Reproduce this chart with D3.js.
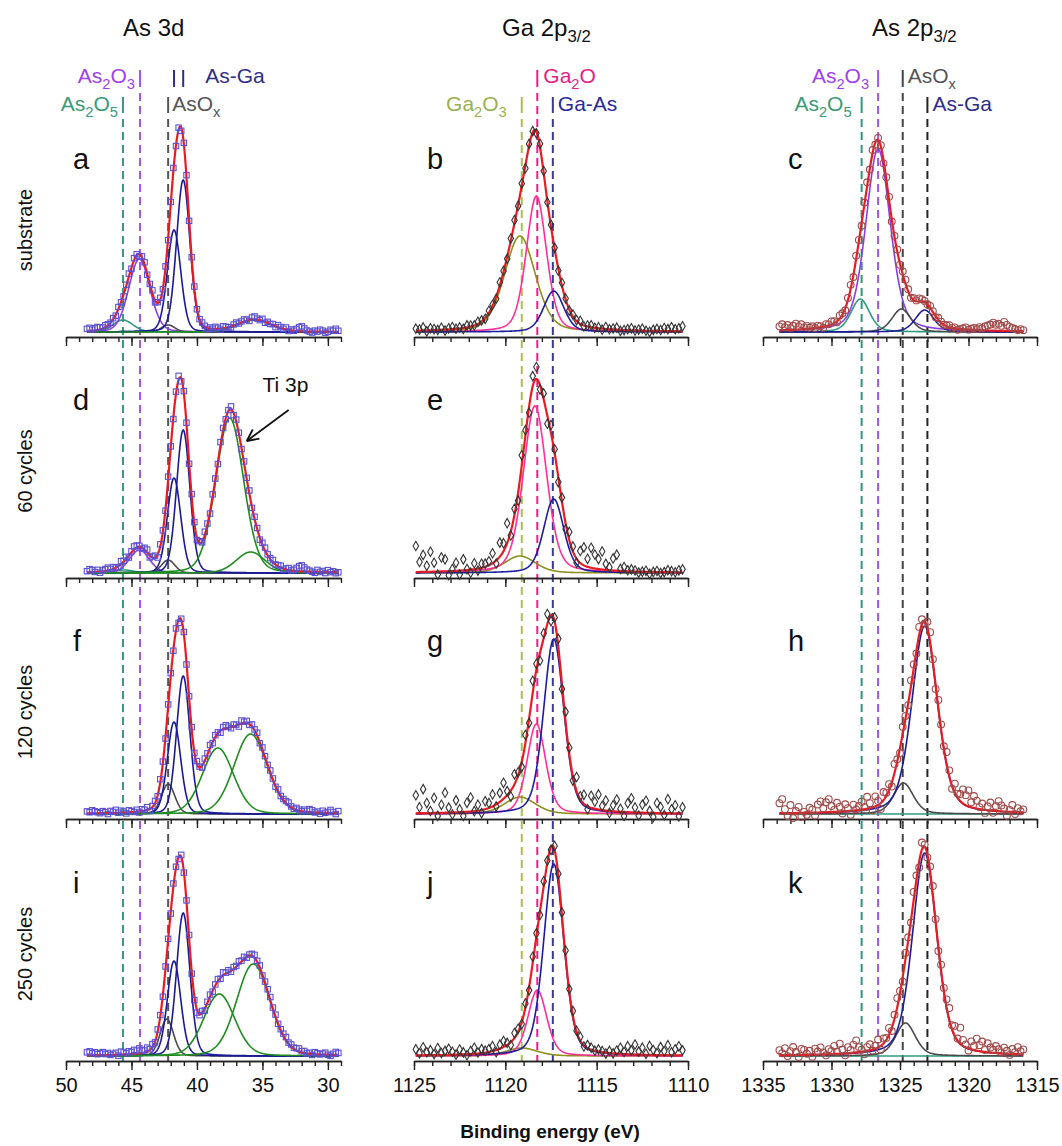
<!doctype html>
<html lang="en">
<head>
<meta charset="utf-8">
<title>XPS As 3d / Ga 2p / As 2p</title>
<script src="https://cdn.jsdelivr.net/npm/d3@7"></script>
<style>
  body { margin: 0; background: #fff; }
  text { font-family: "Liberation Sans", Arial, Helvetica, sans-serif; }
</style>
</head>
<body>
<script>
// ---- data ----
var colDomains = [[50, 29], [1125, 1110], [1335, 1315]];
var colTicks = [[50, 45, 40, 35, 30], [1125, 1120, 1115, 1110], [1335, 1330, 1325, 1320, 1315]];
var colEta = [0.15, 0.3, 0.35];           // lorentzian share of the fit peaks
var gridStart = [48.4, 1124.9, 1333.8];   // first measured energy
var gridCount = [97, 74, 90];             // points, 0.2 eV apart
var rowNames = ["substrate", "60 cycles", "120 cycles", "250 cycles"];

// fitted components: [centre eV, height, fwhm eV, species]
var peaksA = [[45.65,12,1.8,"As2O5"],[44.4,73,1.9,"As2O3"],[42.2,7,1.2,"AsOx"],[41.75,102,1.2,"AsGa"],[41.05,152,1.2,"AsGa"],[35.6,12,3.0,"Ti"]];
var peaksD = [[45.6,3,1.8,"As2O5"],[44.4,23,1.8,"As2O3"],[42.2,13,1.2,"AsOx"],[41.75,95,1.2,"AsGa"],[41.05,143,1.2,"AsGa"],[37.5,155,2.5,"Ti"],[35.9,21,2.6,"Ti"]];
var peaksF = [[42.2,30,1.2,"AsOx"],[41.75,92,1.2,"AsGa"],[41.05,138,1.2,"AsGa"],[38.4,66,2.8,"Ti"],[35.9,80,3.0,"Ti"]];
var peaksI = [[42.3,37,1.2,"AsOx"],[41.75,95,1.2,"AsGa"],[41.05,143,1.2,"AsGa"],[38.3,62,2.8,"Ti"],[35.7,92,3.0,"Ti"]];
var peaksB = [[1119.2,96,2.0,"Ga2O3"],[1118.3,136,1.3,"Ga2O"],[1117.35,41,1.3,"GaAs"]];
var peaksE = [[1119.2,17,2.0,"Ga2O3"],[1118.38,167,1.5,"Ga2O"],[1117.35,74,1.3,"GaAs"]];
var peaksG = [[1119.2,17,2.0,"Ga2O3"],[1118.3,90,1.2,"Ga2O"],[1117.35,175,1.3,"GaAs"]];
var peaksJ = [[1119.1,8,2.0,"Ga2O3"],[1118.25,66,1.2,"Ga2O"],[1117.35,192,1.3,"GaAs"]];
var peaksC = [[1327.9,33,1.6,"As2O5"],[1326.6,183,2.1,"As2O3"],[1324.9,23,1.6,"AsOx"],[1323.2,22,1.6,"AsGa"]];
var peaksH = [[1327.8,0,1.6,"As2O5"],[1324.75,31,1.7,"AsOx"],[1323.2,188,2.2,"AsGa"]];
var peaksK = [[1327.8,0,1.6,"As2O5"],[1324.6,33,1.7,"AsOx"],[1323.2,203,2.1,"AsGa"]];

// scatter of the measured points about the fit envelope
var noiseA = [2,3,1,2,3,2,1,2,1,0, 1,-1,2,0,-2,1,3,-1,2,1, -2,1,2,-1,0,3,-2,1,2,-1, 1,-2,2,3,-1,2,-3,1,2,-2, 1,2,-1,0,2,1,-1,1,0,2, 1,-1,2,1,0,-1,1,2,0,1, 2,1,-1,2,3,1,0,2,-1,1, 0,1,-1,2,1,0,2,-1,1,0, 2,4,5,3,1,0,-1,1,0,2, 1,-1,0,2,1,3,1];
var noiseD = [1,3,2,0,2,-1,1,2,3,1, 2,0,-1,3,1,2,-2,1,3,2, 1,-1,2,3,-2,1,2,-3,2,1, -2,3,1,-2,2,4,-3,2,1,-2, 3,1,-2,2,-1,3,1,-2,2,1, -2,3,2,-1,1,3,-2,2,1,-1, 2,1,3,-1,2,1,-2,2,3,1, 1,2,0,1,2,-1,1,2,0,1, 3,5,6,4,2,1,0,-1,2,0, 1,-1,2,0,1,-1,0];
var noiseF = [2,1,3,2,1,0,2,1,-1,2, 1,3,0,2,1,-1,2,1,0,2, -1,2,1,3,-2,1,2,-1,3,1, -2,2,3,-1,2,-3,1,2,-2,1, 2,-1,3,1,-2,2,1,3,-1,2, 1,-2,2,3,1,-1,2,1,-2,3, 1,2,-1,2,1,3,-1,2,1,0, 2,1,-1,2,0,1,2,3,1,0, 2,1,0,2,1,3,2,0,1,-1, 2,0,1,3,1,-1,2];
var noiseI = [3,4,2,3,1,2,3,1,2,0, 1,2,-1,3,2,1,3,2,4,3, 5,3,2,4,1,3,-1,2,1,-2, 2,1,-2,3,1,-2,2,-1,1,3, -2,-4,-3,-1,2,-2,1,2,-1,1, 2,-1,3,1,2,-1,2,1,3,1, 2,-1,1,2,3,1,2,-1,1,2, 3,1,2,0,1,2,3,1,2,1, 2,3,1,2,0,1,-1,2,1,0, 1,2,0,-1,1,3,2];
var noiseB = [2,1,3,-1,2,1,0,2,-1,1, 2,0,1,-1,2,1,0,2,1,-1, 2,1,-2,3,1,-2,2,3,-1,2, -3,2,1,-2,3,2,-1,2,1,-2, 3,1,-1,2,1,3,-1,1,2,0, 1,-1,2,0,1,2,-1,0,1,2, 0,1,2,0,-1,1,2,1,3,2, 4,2,3,5];
var noiseE = [26,10,17,6,20,9,-3,14,12,-4, 2,8,-4,11,1,-3,6,-2,4,3, 4,10,-3,14,8,20,-4,6,-8,10, 5,-6,10,12,-4,6,-8,8,4,-5, 4,-6,8,5,-4,12,18,8,20,14, 10,18,6,3,12,16,2,4,1,2, 1,-1,0,1,-2,0,1,-1,0,2, 1,0,2,3];
var noiseG = [18,6,24,10,2,15,-3,8,20,5, -2,12,3,-4,9,14,0,6,-3,8, 5,12,-2,9,16,4,-6,10,3,-5, 8,-4,12,6,-8,5,10,-6,4,8, -5,10,6,-4,14,3,9,-3,12,7, 15,4,10,-2,6,12,3,-4,9,14, 5,-3,8,12,2,-4,10,6,-2,14, 4,8,-3,6];
var noiseJ = [6,2,8,3,5,1,7,2,4,6, 3,0,5,2,-1,3,6,1,4,2, 3,5,-2,4,6,2,-3,5,3,-2, 4,-3,6,3,-4,5,2,-3,4,2, 3,6,2,5,1,4,-1,3,2,0, 2,1,-1,2,0,3,6,2,8,4, 10,3,7,1,9,5,2,8,4,10, 3,6,9,5];
var noiseC = [4,6,3,5,2,4,6,3,5,2, 3,1,2,0,2,1,-1,2,1,3, 2,-1,3,1,-2,2,4,-2,3,1, -3,2,4,-1,3,-2,2,1,-3,2, 3,-2,1,2,-1,3,4,2,-1,2, 1,3,2,1,0,2,1,-1,2,1, 0,1,2,0,1,-1,0,1,2,0, 1,2,1,3,2,4,5,6,8,6, 7,5,9,6,4,3,2,1,2,1];
var noiseH = [10,14,4,-3,8,-5,2,6,-4,1, -2,5,3,-3,8,11,4,10,13,6, 2,9,5,-2,7,3,-4,6,1,4, 8,2,12,5,-3,10,4,-6,8,3, 6,-4,9,2,-5,7,3,-2,6,4, -3,8,5,-2,6,10,3,-4,8,5, 2,12,6,-3,9,4,7,14,10,16, 5,12,8,2,6,-3,4,8,-2,5, 10,6,3,-4,2,7,-2,4,1,3];
var noiseK = [5,2,7,-1,4,8,3,-2,6,5, 1,4,-2,6,3,7,2,-1,5,3, 8,2,10,4,-2,6,3,8,12,5, 2,-3,4,6,-1,3,8,-4,5,2, 7,-3,4,9,2,-5,6,3,-2,8, 4,-6,7,2,-3,5,9,2,-4,6, 3,8,12,4,10,2,16,6,3,-2, 8,4,12,6,10,2,9,5,3,7, 4,1,6,3,-1,5,2,7,3,5];

var panels = [
  {id:"a", row:0, col:0, peaks:peaksA, noise:noiseA},
  {id:"b", row:0, col:1, peaks:peaksB, noise:noiseB},
  {id:"c", row:0, col:2, peaks:peaksC, noise:noiseC},
  {id:"d", row:1, col:0, peaks:peaksD, noise:noiseD},
  {id:"e", row:1, col:1, peaks:peaksE, noise:noiseE},
  {id:"f", row:2, col:0, peaks:peaksF, noise:noiseF},
  {id:"g", row:2, col:1, peaks:peaksG, noise:noiseG},
  {id:"h", row:2, col:2, peaks:peaksH, noise:noiseH},
  {id:"i", row:3, col:0, peaks:peaksI, noise:noiseI},
  {id:"j", row:3, col:1, peaks:peaksJ, noise:noiseJ},
  {id:"k", row:3, col:2, peaks:peaksK, noise:noiseK}
];

// reference energies of the chemical states
var refCol = [0, 0, 0, 0, 0, 1, 1, 1, 2, 2, 2, 2];
var refEnergy = [45.65, 44.35, 42.2, 41.75, 41.05, 1119.1, 1118.25, 1117.4, 1327.8, 1326.6, 1324.8, 1323.0];
var refLabel = ["As_2O_5", "As_2O_3", "AsO_x", "", "As-Ga", "Ga_2O_3", "Ga_2O", "Ga-As", "As_2O_5", "As_2O_3", "AsO_x", "As-Ga"];

// ---- styles / layout ----
var compColor = {As2O5:"#2e9a7e", As2O3:"#8a3fe6", AsOx:"#4a4a4a", AsGa:"#1a1a96", Ti:"#1f8c1f",
                 Ga2O3:"#8f8f1f", Ga2O:"#ff2f96", GaAs:"#1c1ca0"};
var markerColor = ["#5a50d0", "#333333", "#a04a4a"];
var refStyle = [
  {lvl:1, side:"L", gap:5,  dash:"#3a9a78", txt:"#3a9a78"},
  {lvl:0, side:"L", gap:5,  dash:"#a455f0", txt:"#a040ee"},
  {lvl:1, side:"R", gap:4,  dash:"#555",    txt:"#555"},
  {lvl:0, side:"N", gap:0,  dash:"#2e2e8a", txt:"#2e2e8a", barOnly:true},
  {lvl:0, side:"R", gap:22, dash:"#2e2e8a", txt:"#2e2e8a", barOnly:true},
  {lvl:1, side:"L", gap:15, dash:"#a8c050", txt:"#9ab050"},
  {lvl:0, side:"R", gap:6,  dash:"#e8208a", txt:"#e8208a"},
  {lvl:1, side:"R", gap:5,  dash:"#3a3a90", txt:"#2a2a9a"},
  {lvl:1, side:"L", gap:10, dash:"#2a9a7a", txt:"#3a9a78"},
  {lvl:0, side:"L", gap:9,  dash:"#a455f0", txt:"#a040ee"},
  {lvl:0, side:"R", gap:5,  dash:"#444",    txt:"#555"},
  {lvl:1, side:"R", gap:5,  dash:"#222",    txt:"#2e2e8a"}
];
var colRange = [[66, 341], [414, 688], [763, 1037]];
var rowAxisY = [337, 578, 819, 1061];
var barTop = [70, 97], barBot = [87, 113], labelBase = [83, 111];

var svg = d3.select("body").append("svg").attr("width", 1062).attr("height", 1146);
var xs = colDomains.map(function(d, i){ return d3.scaleLinear().domain(d).range(colRange[i]); });

function pv(e, p, eta){
  var t = (e - p[0]) / p[2];
  return p[1] * ((1 - eta) * Math.exp(-4 * Math.LN2 * t * t) + eta / (1 + 4 * t * t));
}

function rich(g, x, y, str, size, color, anchor, weight){
  var t = g.append("text").attr("x", x).attr("y", y).attr("fill", color)
    .attr("font-size", size).attr("text-anchor", anchor || "start");
  if (weight) t.attr("font-weight", weight);
  var down = false;
  str.split(/(_[^_A-Z-]+)/).forEach(function(s){
    if (!s) return;
    var ts = t.append("tspan");
    if (s.charAt(0) === "_") {
      ts.text(s.slice(1)).attr("font-size", size * 0.7);
      if (!down) { ts.attr("dy", size * 0.27); down = true; }
    } else {
      ts.text(s);
      if (down) { ts.attr("dy", -size * 0.27); down = false; }
    }
  });
  return t;
}

// reference lines (behind everything)
var gRef = svg.append("g");
refEnergy.forEach(function(e, i){
  var st = refStyle[i], x = xs[refCol[i]](e);
  gRef.append("line").attr("x1", x).attr("x2", x).attr("y1", barTop[st.lvl]).attr("y2", barBot[st.lvl])
    .attr("stroke", st.dash).attr("stroke-width", 2);
  if (!st.barOnly) {
    gRef.append("line").attr("x1", x).attr("x2", x).attr("y1", barBot[st.lvl] + 6).attr("y2", rowAxisY[3])
      .attr("stroke", st.dash).attr("stroke-width", 2).attr("stroke-dasharray", "8,5");
  }
  if (refLabel[i]) {
    if (st.side === "L") rich(svg, x - st.gap, labelBase[st.lvl], refLabel[i], 21, st.txt, "end");
    else rich(svg, x + st.gap, labelBase[st.lvl], refLabel[i], 21, st.txt, "start");
  }
});

// column titles
rich(svg, 123, 36, "As 3d", 24, "#111", "start");
rich(svg, 502, 36, "Ga 2p_3/2", 24, "#111", "start");
rich(svg, 872, 36, "As 2p_3/2", 24, "#111", "start");

// row names
rowNames.forEach(function(n, r){
  svg.append("text").attr("transform", "translate(32," + (rowAxisY[r] - 107) + ") rotate(-90)")
    .attr("text-anchor", "middle").attr("font-size", 20).attr("fill", "#111").text(n);
});

panels.forEach(function(p){
  var x = xs[p.col], ay = rowAxisY[p.row], eta = colEta[p.col];
  var y = d3.scaleLinear().domain([0, 210]).range([ay - 5, ay - 215]);
  var g = svg.append("g");
  var e0 = gridStart[p.col], e1 = e0 - 0.2 * (gridCount[p.col] - 1);
  var fine = d3.range(e0, e1 - 0.001, -0.04);
  var env = function(e){ return d3.sum(p.peaks, function(k){ return pv(e, k, eta); }); };

  // axis: minor + major ticks
  var dom = colDomains[p.col];
  var minor = d3.range(Math.min(dom[0], dom[1]), Math.max(dom[0], dom[1]) + 0.5, 1);
  g.append("g").attr("transform", "translate(0," + ay + ")")
    .call(d3.axisBottom(x).tickValues(minor).tickSize(5).tickSizeOuter(0).tickFormat(""))
    .call(function(s){ s.selectAll("path,line").attr("stroke", "#222").attr("stroke-width", 1.4); });
  var major = g.append("g").attr("transform", "translate(0," + ay + ")")
    .call(d3.axisBottom(x).tickValues(colTicks[p.col]).tickSize(9).tickSizeOuter(0).tickPadding(8)
      .tickFormat(p.row === 3 ? d3.format("d") : ""));
  major.selectAll("path,line").attr("stroke", "#222").attr("stroke-width", 1.4);
  major.selectAll("text").attr("font-size", 20).attr("fill", "#111")
    .attr("font-family", '"Liberation Sans", Arial, sans-serif');

  // fitted components
  p.peaks.forEach(function(k){
    g.append("path").datum(fine).attr("fill", "none")
      .attr("stroke", compColor[k[3]]).attr("stroke-width", 1.6)
      .attr("d", d3.line().x(function(e){ return x(e); }).y(function(e){ return y(pv(e, k, eta)); }));
  });
  // envelope
  g.append("path").datum(fine).attr("fill", "none").attr("stroke", "#e81b23").attr("stroke-width", 2.2)
    .attr("d", d3.line().x(function(e){ return x(e); }).y(function(e){ return y(env(e)); }));

  // measured points
  var pts = p.noise.map(function(n, i){ var e = e0 - 0.2 * i; return [e, env(e) + n]; });
  var mk = g.append("g").attr("fill", "none").attr("stroke", markerColor[p.col]).attr("stroke-width", 1.1);
  if (p.col === 0) {
    mk.selectAll("rect").data(pts).join("rect")
      .attr("x", function(d){ return x(d[0]) - 2.7; }).attr("y", function(d){ return y(d[1]) - 2.7; })
      .attr("width", 5.4).attr("height", 5.4);
  } else if (p.col === 1) {
    mk.selectAll("path").data(pts).join("path")
      .attr("transform", function(d){ return "translate(" + x(d[0]) + "," + y(d[1]) + ")"; })
      .attr("d", d3.symbol().type(d3.symbolDiamond).size(26));
  } else {
    mk.selectAll("circle").data(pts).join("circle")
      .attr("cx", function(d){ return x(d[0]); }).attr("cy", function(d){ return y(d[1]); }).attr("r", 3.4);
  }

  // panel letter
  g.append("text").attr("x", colRange[p.col][0] + [7, 13, 25][p.col]).attr("y", ay - 168)
    .attr("font-size", 29).attr("fill", "#111").text(p.id);

  if (p.id === "d") {
    g.append("text").attr("x", x(35.0)).attr("y", y(181)).attr("font-size", 21).attr("fill", "#111").text("Ti 3p");
    var hx = x(36.2), hy = y(132), tx = x(33.0), ty = y(163);
    var ang = Math.atan2(ty - hy, tx - hx);
    g.append("line").attr("x1", tx).attr("y1", ty).attr("x2", hx).attr("y2", hy).attr("stroke", "#111").attr("stroke-width", 1.8);
    [0.45, -0.45].forEach(function(da){
      g.append("line").attr("x1", hx).attr("y1", hy)
        .attr("x2", hx + 13 * Math.cos(ang + da)).attr("y2", hy + 13 * Math.sin(ang + da))
        .attr("stroke", "#111").attr("stroke-width", 1.8);
    });
  }
});

// x-axis title
svg.append("text").attr("x", 550).attr("y", 1138).attr("text-anchor", "middle")
  .attr("font-size", 19).attr("font-weight", "bold").attr("fill", "#111").text("Binding energy (eV)");
</script>
</body>
</html>
